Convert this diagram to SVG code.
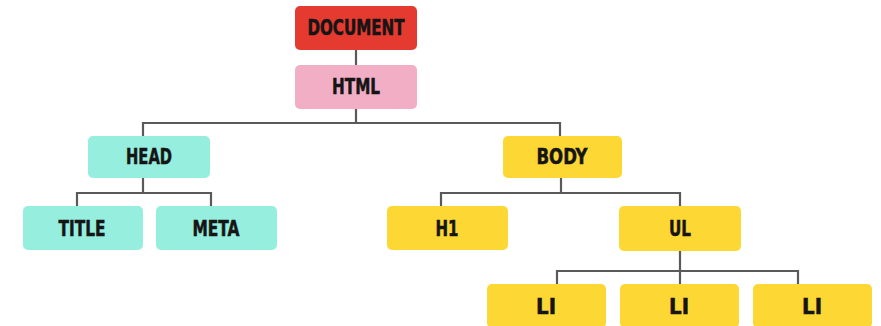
<svg xmlns="http://www.w3.org/2000/svg" width="881" height="326" viewBox="0 0 881 326">
  <style>
    .box { stroke: none; }
    .doc { fill: #E53A30; }
    .html { fill: #F2AEC5; }
    .teal { fill: #95EEDE; }
    .yellow { fill: #FDD835; }
    .label { font-family: "DejaVu Sans Condensed", "DejaVu Sans", sans-serif; font-weight: bold; font-size: 21px; fill: #151515; stroke: #151515; stroke-width: 0.5; text-anchor: middle; }
    .wire { fill: none; stroke: #5a5a5a; stroke-width: 2.2; }
  </style>

  <!-- tree edges -->
  <g id="connectors">
    <path class="wire" d="M356 50 V65"/>
    <path class="wire" d="M356 109 V123 M143 136 V123 H560 V136"/>
    <path class="wire" d="M143 178 V193 M77 206 V193 H211 V206"/>
    <path class="wire" d="M561 178 V193 M441 206 V193 H680 V206"/>
    <path class="wire" d="M680 251 V271 M557 284 V271 H798 V284 M680 271 V284"/>
  </g>

  <g id="document">
    <rect class="box doc" x="295" y="6" width="122" height="44" rx="5"/>
    <text class="label" x="356" y="34.5" textLength="97" lengthAdjust="spacingAndGlyphs">DOCUMENT</text>
  </g>
  <g id="html">
    <rect class="box html" x="295" y="65" width="122" height="44" rx="5"/>
    <text class="label" x="356" y="93.5" textLength="48" lengthAdjust="spacingAndGlyphs">HTML</text>
  </g>
  <g id="head">
    <rect class="box teal" x="88" y="136" width="122" height="42" rx="5"/>
    <text class="label" x="149" y="164" textLength="46" lengthAdjust="spacingAndGlyphs">HEAD</text>
  </g>
  <g id="title">
    <rect class="box teal" x="23" y="206" width="120" height="44" rx="5"/>
    <text class="label" x="82" y="235.5" textLength="47" lengthAdjust="spacingAndGlyphs">TITLE</text>
  </g>
  <g id="meta">
    <rect class="box teal" x="156" y="206" width="121" height="44" rx="5"/>
    <text class="label" x="216" y="235.5" textLength="47" lengthAdjust="spacingAndGlyphs">META</text>
  </g>
  <g id="body">
    <rect class="box yellow" x="503" y="136" width="119" height="42" rx="5"/>
    <text class="label" x="562" y="164" textLength="51" lengthAdjust="spacingAndGlyphs">BODY</text>
  </g>
  <g id="h1">
    <rect class="box yellow" x="387" y="206" width="121" height="44" rx="5"/>
    <text class="label" x="447" y="235.5" textLength="23" lengthAdjust="spacingAndGlyphs">H1</text>
  </g>
  <g id="ul">
    <rect class="box yellow" x="619" y="206" width="122" height="45" rx="5"/>
    <text class="label" x="680" y="235.5" textLength="22" lengthAdjust="spacingAndGlyphs">UL</text>
  </g>
  <g id="li-1">
    <rect class="box yellow" x="487" y="284" width="119" height="44" rx="5"/>
    <text class="label" x="546" y="313.5" textLength="20" lengthAdjust="spacingAndGlyphs">LI</text>
  </g>
  <g id="li-2">
    <rect class="box yellow" x="620" y="284" width="119" height="44" rx="5"/>
    <text class="label" x="679" y="313.5" textLength="20" lengthAdjust="spacingAndGlyphs">LI</text>
  </g>
  <g id="li-3">
    <rect class="box yellow" x="753" y="284" width="119" height="44" rx="5"/>
    <text class="label" x="812" y="313.5" textLength="20" lengthAdjust="spacingAndGlyphs">LI</text>
  </g>
</svg>
